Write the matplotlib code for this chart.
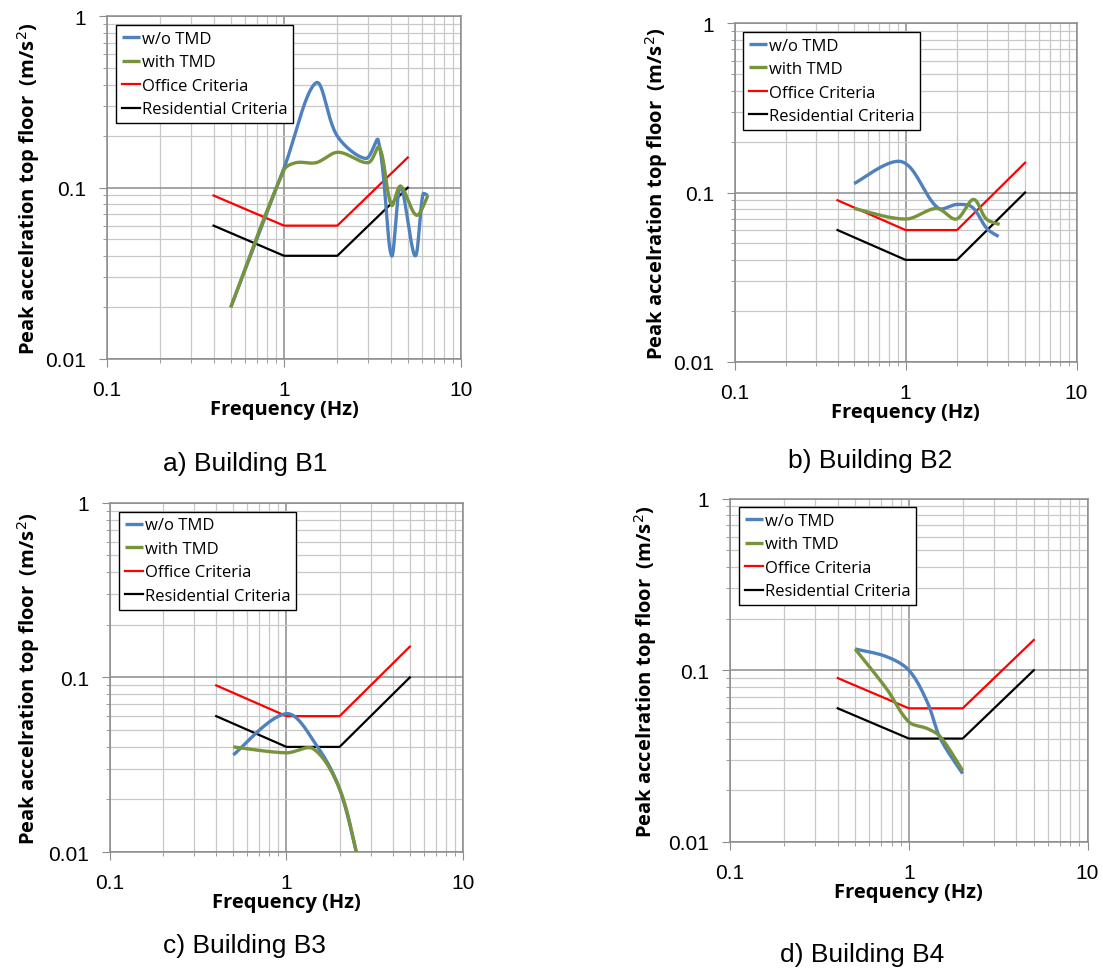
import numpy as np
import matplotlib
matplotlib.use("Agg")
import matplotlib.pyplot as plt
from matplotlib.ticker import LogLocator, NullFormatter, FixedLocator, FixedFormatter

# ---------------- data ----------------
crit_f = [0.4, 1.0, 2.0, 5.0]
office = [0.09, 0.06, 0.06, 0.15]
residential = [0.06, 0.04, 0.04, 0.10]

b1_wo_f = [0.5, 1.0, 1.52, 2.0, 2.9, 3.4, 4.05, 4.55, 5.5, 6.1, 6.5]
b1_wo_a = [0.02, 0.13, 0.41, 0.20, 0.148, 0.19, 0.040, 0.102, 0.040, 0.092, 0.090]
b1_w_f = [0.5, 1.0, 1.17, 1.52, 2.02, 2.99, 3.45, 4.05, 4.55, 5.6, 6.5]
b1_w_a = [0.02, 0.127, 0.14, 0.14, 0.161, 0.14, 0.173, 0.079, 0.102, 0.069, 0.090]

b2_wo_f = [0.5, 0.95, 1.55, 2.0, 2.45, 3.0, 3.5]
b2_wo_a = [0.113, 0.152, 0.081, 0.085, 0.082, 0.061, 0.055]
b2_w_f = [0.5, 1.0, 1.52, 1.98, 2.5, 2.97, 3.55]
b2_w_a = [0.0805, 0.0697, 0.0805, 0.0697, 0.091, 0.0697, 0.0648]

b3_wo_f = [0.5, 1.0, 1.5, 2.0, 2.5]
b3_wo_a = [0.036, 0.062, 0.040, 0.023, 0.0098]
b3_w_f = [0.5, 1.0, 1.42, 2.0, 2.5]
b3_w_a = [0.040, 0.037, 0.039, 0.023, 0.0098]

b4_wo_f = [0.5, 0.75, 1.0, 1.27, 1.5, 2.0]
b4_wo_a = [0.133, 0.12, 0.10, 0.065, 0.040, 0.025]
b4_w_f = [0.5, 0.75, 1.0, 1.27, 1.5, 2.0]
b4_w_a = [0.133, 0.078, 0.050, 0.0457, 0.041, 0.026]

captions = ["a) Building B1", "b) Building B2", "c) Building B3", "d) Building B4"]
ytick_vals = [0.01, 0.1, 1]
ytick_labels = ["0.01", "0.1", "1"]
xtick_vals = [0.1, 1, 10]
xtick_labels = ["0.1", "1", "10"]

# ---------------- helpers ----------------
def smooth(f, a, n=40):
    """Smoothed line (chord-weighted Bezier, like Excel's smoothing) in log-log space."""
    x = np.log10(np.asarray(f, float))
    y = np.log10(np.asarray(a, float))
    P = np.column_stack([x, y])
    m = len(P)
    def ctrl(i):
        # tangent at point i
        p0 = P[i - 1] if i > 0 else P[i]
        p2 = P[i + 1] if i + 1 < m else P[i]
        return p2 - p0
    out = []
    for i in range(m - 1):
        p1 = P[i]
        p2 = P[i + 1]
        d12 = np.linalg.norm(p2 - p1)
        d01 = np.linalg.norm(p1 - P[i - 1]) if i > 0 else d12
        d23 = np.linalg.norm(P[i + 2] - p2) if i + 2 < m else d12
        c1 = p1 + ctrl(i) * (d12 / (d01 + d12)) / 3.0
        c2 = p2 - ctrl(i + 1) * (d12 / (d12 + d23)) / 3.0
        t = np.linspace(0, 1, n)[:, None]
        seg = ((1 - t) ** 3) * p1 + 3 * ((1 - t) ** 2) * t * c1 + 3 * (1 - t) * t ** 2 * c2 + t ** 3 * p2
        if i > 0:
            seg = seg[1:]
        out.append(seg)
    S = np.vstack(out)
    return 10 ** S[:, 0], 10 ** S[:, 1]

plt.rcParams['font.family'] = ['Liberation Sans', 'DejaVu Sans']

fig = plt.figure(figsize=(11.03, 9.70), dpi=100)

rects = [
    (0.097, 0.629, 0.321, 0.353),
    (0.666, 0.626, 0.310, 0.349),
    (0.0997, 0.1206, 0.320, 0.360),
    (0.662, 0.131, 0.324, 0.354),
]
series = [
    (b1_wo_f, b1_wo_a, b1_w_f, b1_w_a),
    (b2_wo_f, b2_wo_a, b2_w_f, b2_w_a),
    (b3_wo_f, b3_wo_a, b3_w_f, b3_w_a),
    (b4_wo_f, b4_wo_a, b4_w_f, b4_w_a),
]
cap_pos = [(0.222, 0.522), (0.789, 0.525), (0.222, 0.025), (0.782, 0.015)]
ylab_x = [0.026, 0.595, 0.026, 0.585]

blue = '#4F81BD'
green = '#77933C'
lab_font = ['Open Sans', 'DejaVu Sans']
for k, (rect, s) in enumerate(zip(rects, series)):
    ax = fig.add_axes(rect)
    ax.set_xscale('log')
    ax.set_yscale('log')
    ax.set_xlim(0.1, 10)
    ax.set_ylim(0.01, 1)

    xs, ys = smooth(s[0], s[1])
    ax.plot(xs, ys, color=blue, lw=2.4, label='w/o TMD', solid_capstyle='butt', zorder=4)
    xs, ys = smooth(s[2], s[3])
    ax.plot(xs, ys, color=green, lw=2.4, label='with TMD', solid_capstyle='butt', zorder=4)
    ax.plot(crit_f, office, color='#FF0000', lw=1.6, label='Office Criteria', zorder=3)
    ax.plot(crit_f, residential, color='#000000', lw=1.6, label='Residential Criteria', zorder=3)

    ax.xaxis.set_major_locator(FixedLocator(xtick_vals))
    ax.xaxis.set_major_formatter(FixedFormatter(xtick_labels))
    ax.yaxis.set_major_locator(FixedLocator(ytick_vals))
    ax.yaxis.set_major_formatter(FixedFormatter(ytick_labels))
    ax.xaxis.set_minor_locator(LogLocator(base=10, subs=np.arange(2, 10)))
    ax.yaxis.set_minor_locator(LogLocator(base=10, subs=np.arange(2, 10)))
    ax.xaxis.set_minor_formatter(NullFormatter())
    ax.yaxis.set_minor_formatter(NullFormatter())

    ax.grid(True, which='major', color='#8C8C8C', lw=1.1, zorder=0)
    ax.grid(True, which='minor', color='#C8C8C8', lw=0.9, zorder=0)
    ax.set_axisbelow(True)
    for sp in ax.spines.values():
        sp.set_color('#8C8C8C')
        sp.set_linewidth(1.1)
    ax.tick_params(which='major', direction='out', length=6, color='#8C8C8C',
                   labelsize=15, pad=9, labelcolor='#000000')
    ax.tick_params(which='minor', direction='out', length=3, color='#8C8C8C')

    ax.set_xlabel('Frequency (Hz)', fontsize=14.5, fontweight='bold', labelpad=0,
                  family=lab_font)
    fig.text(ylab_x[k], rect[1] + rect[3] / 2, 'Peak accelration top floor  (m/s$^2$)',
             rotation=90, ha='center', va='center', fontsize=14.5, fontweight='bold',
             family=lab_font)

    leg = ax.legend(loc='upper left', bbox_to_anchor=(0.025, 0.975), frameon=True,
                    fancybox=False, edgecolor='#000000', framealpha=1,
                    prop={'family': lab_font, 'size': 12},
                    handlelength=1.1, handletextpad=0.1, borderpad=0.35,
                    labelspacing=0.45, borderaxespad=0)
    leg.get_frame().set_linewidth(1.0)
    leg.set_zorder(10)

    fig.text(cap_pos[k][0], cap_pos[k][1], captions[k], ha='center', va='center', fontsize=19)

fig.savefig('out.png', dpi=100)
